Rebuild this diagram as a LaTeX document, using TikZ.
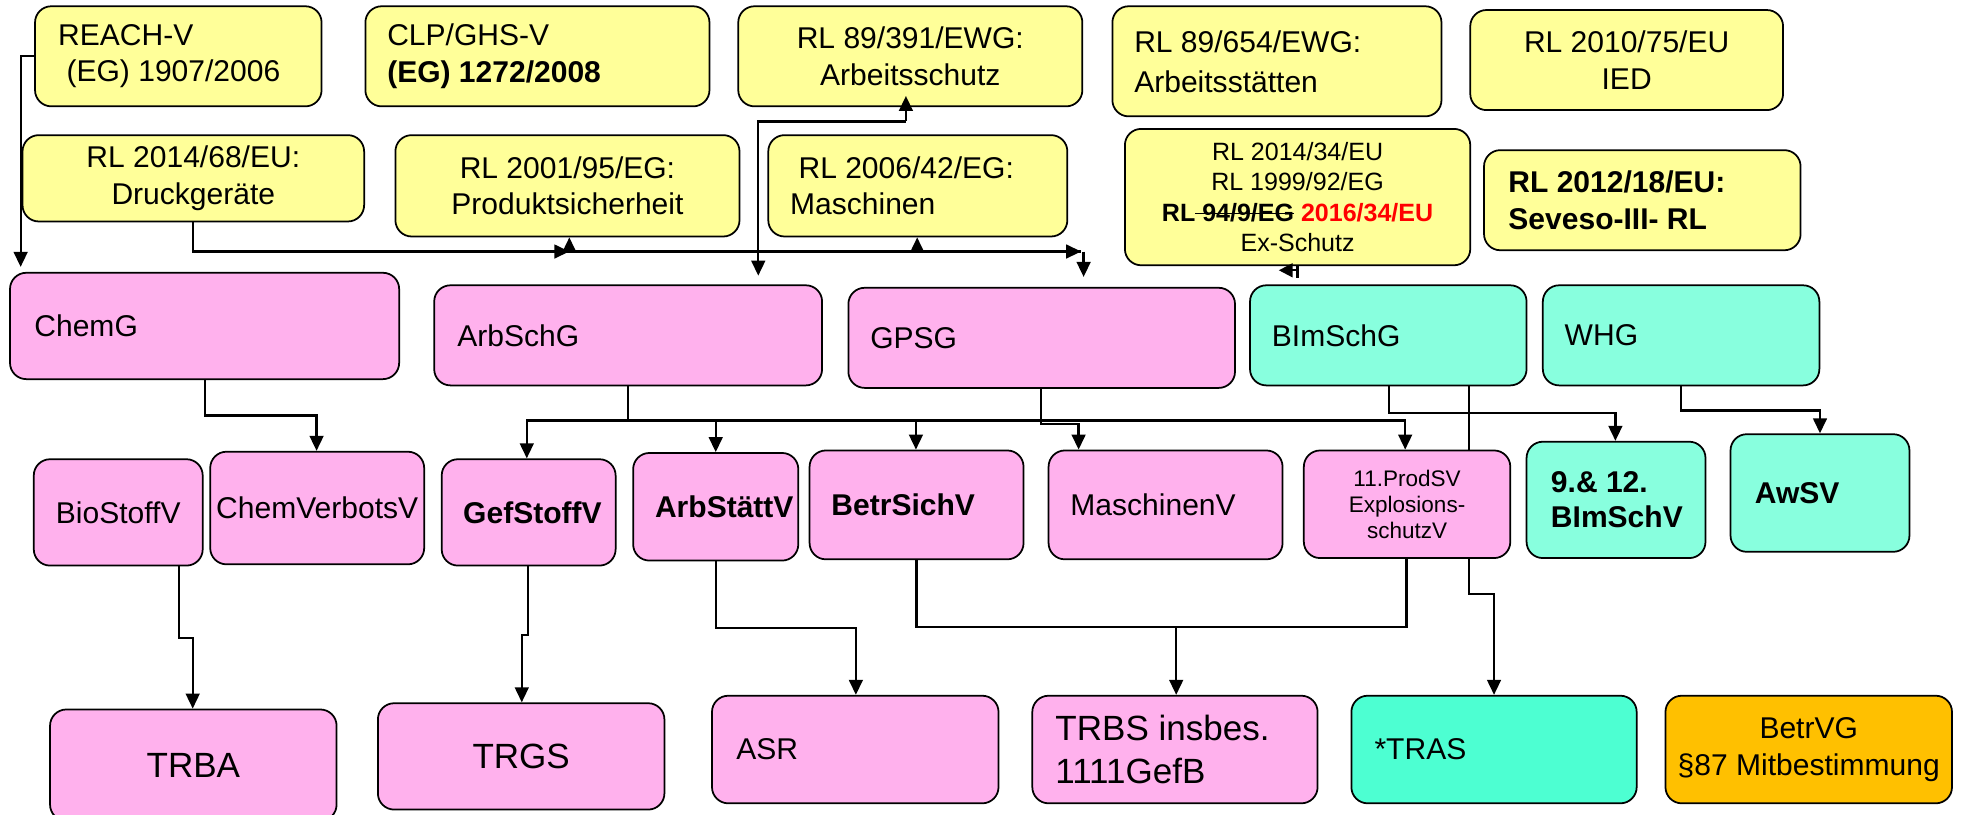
\documentclass[tikz,border=0pt]{standalone}
\usepackage{fontspec}
\setmainfont{Liberation Sans}
\usetikzlibrary{arrows.meta}
\definecolor{yel}{RGB}{255,255,153}
\definecolor{pnk}{RGB}{255,177,237}
\definecolor{cyn}{RGB}{136,255,222}
\definecolor{cynb}{RGB}{77,255,210}
\definecolor{org}{RGB}{255,192,0}
\newcommand\strk[1]{\setbox0\hbox{#1}\rlap{\rule[0.3em]{\wd0}{0.9pt}}\box0\relax}
\newcommand\bx[7]{\node[#2, minimum width={(#5)-(#3)}, minimum height={(#6)-(#4)}] (#1) at ({((#3)+(#5))/2},{((#4)+(#6))/2}) {#7};}
\tikzset{
  box/.style={draw=black, line width=1.4pt, rounded corners=13pt, inner sep=0pt, align=center},
  yb/.style={box, fill=yel},
  pb/.style={box, fill=pnk},
  cb/.style={box, fill=cyn},
  lt/.style={inner sep=0pt, anchor=west, align=left},
  conn/.style={line width=1.8pt, draw=black},
  arr/.style={conn, -{Triangle[length=12pt,width=11pt]}},
  big/.style={font=\fontsize{28}{35}\selectfont},
}
\begin{document}
\begin{tikzpicture}[x=1pt,y=-1pt, every node/.style={font=\fontsize{24}{29}\selectfont}]
\fill[white] (0,0) rectangle (1568,651);
\useasboundingbox (0,0) rectangle (1568,651);

% Row 1
\bx{reach}{yb}{28}{5}{257}{85}{}
\node[lt] (reacht) at ([xshift=19pt]reach.west) {REACH-V\\\hspace*{0.28em}(EG) 1907/2006};
\bx{clp}{yb}{292}{5}{567}{85}{}
\node[lt] (clpt) at ([xshift=18pt]clp.west) {CLP/GHS-V\\\textbf{(EG) 1272/2008}};
\bx{rl391}{yb}{590}{5}{865}{85}{RL 89/391/EWG:\\Arbeitsschutz}
\bx{rl654}{yb}{889}{5}{1152}{93}{}
\node[lt, font=\fontsize{24}{32}\selectfont] (rl654t) at ([xshift=18pt]rl654.west) {RL 89/654/EWG:\\Arbeitsstätten};
\bx{rl2010}{yb}{1175}{8}{1425}{88}{RL 2010/75/EU\\IED}

% Row 2
\bx{rl2014}{yb}{18}{108}{291}{177}{RL 2014/68/EU:\\Druckgeräte}
\bx{rl2001}{yb}{316}{108}{591}{189}{RL 2001/95/EG:\\Produktsicherheit}
\bx{rl2006}{yb}{614}{108}{853}{189}{}
\node[lt] (rl2006t) at ([xshift=18pt]rl2006.west) {\hspace*{0.28em}RL 2006/42/EG:\\Maschinen};
\bx{rlex}{yb}{899}{103}{1175}{212}{}
\node[align=center, inner sep=0pt, font=\fontsize{20}{24.3}\selectfont] (rlext) at (rlex.center)
  {RL 2014/34/EU\\RL 1999/92/EG\\\textbf{RL\strk{ 94/9/EG} \textcolor{red}{2016/34/EU}}\\Ex-Schutz};
\bx{rl2012}{yb}{1186}{120}{1439}{200}{}
\node[lt, font=\bfseries\fontsize{24}{30}\selectfont] (rl2012t) at ([xshift=20pt]rl2012.west) {RL 2012/18/EU:\\Seveso-III- RL};

% Row 3
\bx{chemg}{pb}{8}{218}{319}{303}{}
\node[lt] (chemgt) at ([xshift=20pt]chemg.west) {ChemG};
\bx{arbschg}{pb}{347}{228}{657}{308}{}
\node[lt] (arbschgt) at ([xshift=19pt]arbschg.west) {ArbSchG};
\bx{gpsg}{pb}{678}{230}{987}{310}{}
\node[lt] (gpsgt) at ([xshift=18pt]gpsg.west) {GPSG};
\bx{bimschg}{cb}{999}{228}{1220}{308}{}
\node[lt] (bimschgt) at ([xshift=18pt]bimschg.west) {BImSchG};
\bx{whg}{cb}{1233}{228}{1454}{308}{}
\node[lt] (whgt) at ([xshift=18pt]whg.west) {WHG};

% Row 4
\bx{biostoff}{pb}{27}{367}{162}{452}{BioStoffV}
\bx{chemverbots}{pb}{168}{361}{339}{451}{ChemVerbotsV}
\bx{gefstoff}{pb}{353}{367}{492}{452}{\hspace*{6pt}\textbf{GefStoffV}}
\bx{arbstaett}{pb}{506}{362}{638}{448}{}
\node[lt] (arbstaettt) at ([xshift=18pt]arbstaett.west) {\textbf{ArbStättV}};
\bx{betrsich}{pb}{647}{360}{818}{447}{}
\node[lt] (betrsicht) at ([xshift=18pt]betrsich.west) {\textbf{BetrSichV}};
\bx{maschinenv}{pb}{838}{360}{1025}{447}{}
\node[lt] (maschinenvt) at ([xshift=18pt]maschinenv.west) {MaschinenV};
\bx{prodsv}{pb}{1042}{360}{1207}{446}{}
\node[align=center, inner sep=0pt, font=\fontsize{18}{21}\selectfont] (prodsvt) at (prodsv.center) {11.ProdSV\\Explosions-\\schutzV};
\bx{bimschv}{cb}{1220}{353}{1363}{446}{}
\node[lt, font=\bfseries\fontsize{24}{28}\selectfont] (bimschvt) at ([xshift=20pt]bimschv.west) {9.\& 12.\\BImSchV};
\bx{awsv}{cb}{1383}{347}{1526}{441}{}
\node[lt] (awsvt) at ([xshift=20pt]awsv.west) {\textbf{AwSV}};

% Row 5
\bx{trba}{pb, big}{40}{567}{269}{656}{TRBA}
\bx{trgs}{pb, big}{302}{562}{531}{647}{TRGS}
\bx{asr}{pb}{569}{556}{798}{642}{}
\node[lt] (asrt) at ([xshift=20pt]asr.west) {ASR};
\bx{trbs}{pb}{825}{556}{1053}{642}{}
\node[lt, big] (trbst) at ([xshift=19pt]trbs.west) {TRBS insbes.\\1111GefB};
\bx{tras}{box, fill=cynb}{1080}{556}{1308}{642}{}
\node[lt] (trast) at ([xshift=19pt]tras.west) {*TRAS};
\bx{betrvg}{box, fill=org, font=\fontsize{24}{29.5}\selectfont}{1331}{556}{1560}{642}{BetrVG\\§87 Mitbestimmung}

% Connectors
% REACH -> ChemG
\coordinate (k1) at (16.5,45);
\draw[arr, shorten >=4pt] (reach.west |- k1) -- (k1) -- (k1 |- chemg.north);
% Directives -> GPSG
\coordinate (k2) at (154,201);
\coordinate (k3) at (455,201);
\coordinate (k4) at (864,201);
\coordinate (k5) at (733,201);
\coordinate (k5b) at (866,201);
\draw[conn] (k2 |- rl2014.south) -- (k2) -- (k4);
\draw[arr] (k2) -- (k3);
\draw[arr] (k3) -- (k4);
\draw[arr, shorten >=8pt] (k5b) -- (k5b |- gpsg.north);
\draw[arr] (k3) -- (k3 |- rl2001.south);
\draw[arr] (k5) -- (k5 |- rl2006.south);
% RL 89/391 <-> ArbSchG
\coordinate (k6) at (724,97);
\coordinate (k7) at (606,97);
\draw[arr, shorten >=-9pt] (k6) -- (k6 |- rl391.south);
\draw[arr, shorten >=7pt] (k6) -- (k7) -- (k7 |- arbschg.north);
% Ex-Schutz stub
\coordinate (k32) at (1037,216);
\coordinate (k33) at (1022,216);
\coordinate (k34) at (1037,222);
\draw[conn] (k32 |- rlex.south) -- (k34);
\draw[conn, -{Triangle[length=11pt,width=11pt]}] (k32) -- (k33);
% ChemG -> ChemVerbotsV
\coordinate (k8) at (164,332);
\coordinate (k9) at (253,332);
\draw[arr] (k8 |- chemg.south) -- (k8) -- (k9) -- (k9 |- chemverbots.north);
% ArbSchG -> ...
\coordinate (k10) at (502,336);
\coordinate (k11) at (421,336);
\coordinate (k12) at (572,336);
\coordinate (k13) at (732,336);
\coordinate (k14) at (1123,336);
\draw[arr] (k10 |- arbschg.south) -- (k10) -- (k11) -- (k11 |- gefstoff.north);
\draw[arr] (k10) -- (k12) -- (k12 |- arbstaett.north);
\draw[arr] (k12) -- (k13) -- (k13 |- betrsich.north);
\draw[arr] (k13) -- (k14) -- (k14 |- prodsv.north);
% GPSG -> MaschinenV
\coordinate (k15) at (832,339);
\coordinate (k16) at (862,339);
\draw[arr] (k15 |- gpsg.south) -- (k15) -- (k16) -- (k16 |- maschinenv.north);
% BImSchG -> BImSchV
\coordinate (k17) at (1110,330);
\coordinate (k18) at (1291,330);
\draw[arr] (k17 |- bimschg.south) -- (k17) -- (k18) -- (k18 |- bimschv.north);
% BImSchG -> TRAS
\coordinate (k19) at (1174,475);
\coordinate (k20) at (1194,475);
\draw[conn] (k19 |- bimschg.south) -- (k19 |- prodsv.north);
\draw[arr] (k19 |- prodsv.south) -- (k19) -- (k20) -- (k20 |- tras.north);
% WHG -> AwSV
\coordinate (k21) at (1343.5,328);
\coordinate (k22) at (1454.5,328);
\draw[arr] (k21 |- whg.south) -- (k21) -- (k22) -- (k22 |- awsv.north);
% BioStoffV -> TRBA
\coordinate (k23) at (143,509.6);
\coordinate (k24) at (154,509.6);
\draw[arr] (k23 |- biostoff.south) -- (k23) -- (k24) -- (k24 |- trba.north);
% GefStoffV -> TRGS
\coordinate (k25) at (422,507.5);
\coordinate (k26) at (417,507.5);
\draw[arr] (k25 |- gefstoff.south) -- (k25) -- (k26) -- (k26 |- trgs.north);
% ArbStaettV -> ASR
\coordinate (k27) at (572,502);
\coordinate (k28) at (684,502);
\draw[arr] (k27 |- arbstaett.south) -- (k27) -- (k28) -- (k28 |- asr.north);
% BetrSichV / ProdSV -> TRBS
\coordinate (k29) at (732.5,501);
\coordinate (k30) at (1124,501);
\coordinate (k31) at (940,501);
\draw[conn] (k29 |- betrsich.south) -- (k29) -- (k30) -- (k30 |- prodsv.south);
\draw[arr] (k31) -- (k31 |- trbs.north);
\end{tikzpicture}
\end{document}
